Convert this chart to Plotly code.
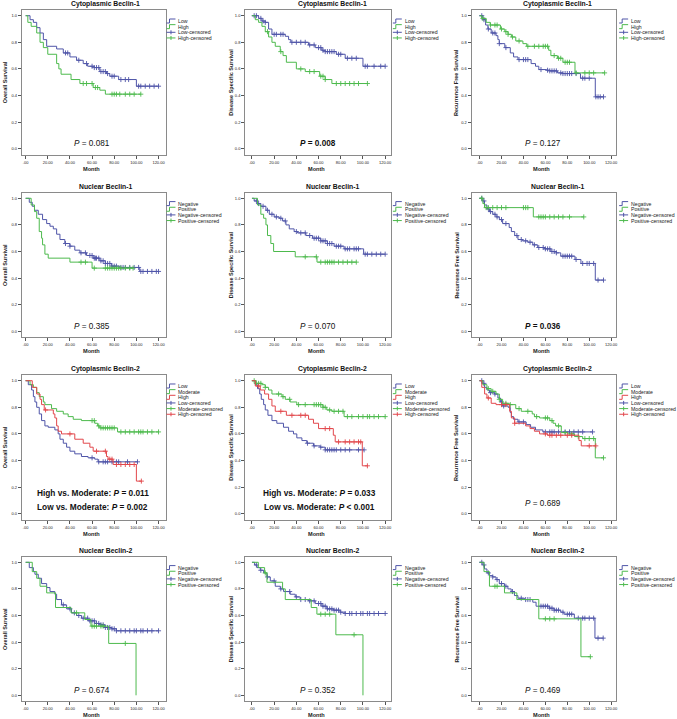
import plotly.graph_objects as go

W, H = 677, 719

# ---- Row 1: Cytoplasmic Beclin-1 ----
cyto1_os_low_t = [0, 4, 7, 10, 13, 16, 19, 28, 34, 40, 46, 52, 56, 62, 67, 73, 76, 84, 100]
cyto1_os_low_s = [1, 0.97, 0.95, 0.91, 0.87, 0.82, 0.77, 0.75, 0.72, 0.69, 0.665, 0.64, 0.62, 0.61, 0.58, 0.565, 0.545, 0.52, 0.47]
cyto1_os_low_c = [36, 38, 48, 55, 60, 62, 64, 66, 68, 70, 72, 74, 78, 80, 86, 90, 93, 102, 104, 108, 112, 116, 120]
cyto1_os_high_t = [0, 2, 5, 10, 13, 16, 20, 28, 30, 32, 41, 49, 61, 67, 72]
cyto1_os_high_s = [1, 0.95, 0.92, 0.87, 0.80, 0.76, 0.71, 0.64, 0.60, 0.56, 0.52, 0.49, 0.46, 0.44, 0.41]
cyto1_os_high_c = [52, 55, 60, 63, 65, 78, 80, 82, 85, 90, 94, 98, 104]

cyto1_dss_low_t = [0, 6, 9, 12, 15, 18, 30, 33, 35, 51, 57, 63, 66, 76, 84, 100]
cyto1_dss_low_s = [1, 0.98, 0.96, 0.95, 0.90, 0.86, 0.845, 0.82, 0.80, 0.78, 0.76, 0.74, 0.73, 0.71, 0.68, 0.62]
cyto1_dss_low_c = [2, 4, 8, 10, 12, 20, 22, 26, 28, 36, 40, 44, 48, 52, 56, 60, 62, 64, 66, 68, 70, 72, 74, 78, 80, 86, 90, 94, 102, 104, 110, 116, 120]
cyto1_dss_high_t = [0, 3, 6, 9, 12, 15, 18, 21, 25.5, 28, 31, 40, 48, 61, 66, 72]
cyto1_dss_high_s = [1, 0.97, 0.95, 0.92, 0.88, 0.84, 0.80, 0.77, 0.73, 0.70, 0.65, 0.60, 0.58, 0.545, 0.52, 0.49]
cyto1_dss_high_c = [14, 26, 44, 52, 56, 62, 64, 66, 76, 80, 84, 88, 92, 96, 104]

cyto1_rfs_low_t = [0, 3, 5.5, 7.6, 10.6, 15, 16.7, 18, 23, 28, 31, 35, 47, 51, 54, 61, 64, 71, 76, 92, 105.5]
cyto1_rfs_low_s = [1, 0.97, 0.93, 0.90, 0.87, 0.85, 0.82, 0.79, 0.76, 0.72, 0.69, 0.67, 0.64, 0.62, 0.595, 0.59, 0.585, 0.57, 0.565, 0.53, 0.39]
cyto1_rfs_low_c = [2, 4, 8, 12, 14, 18, 24, 36, 40, 42, 44, 56, 62, 64, 66, 68, 70, 74, 76, 78, 80, 82, 84, 88, 94, 96, 100, 106, 108, 110, 113]
cyto1_rfs_high_t = [0, 2, 6, 9.7, 19, 23, 26, 29, 33, 39.5, 43, 63, 65, 71, 76, 87]
cyto1_rfs_high_s = [1, 0.98, 0.95, 0.93, 0.90, 0.88, 0.86, 0.84, 0.81, 0.79, 0.77, 0.74, 0.70, 0.68, 0.65, 0.57]
cyto1_rfs_high_c = [3, 10, 14, 16, 20, 24, 26, 30, 36, 44, 50, 54, 58, 60, 62, 68, 72, 74, 78, 80, 82, 88, 96, 100, 104, 114]

# ---- Row 2: Nuclear Beclin-1 ----
nuc1_os_neg_t = [0, 3.3, 6, 8, 11.4, 15.3, 19, 22, 25, 28, 31, 35.4, 40, 44.4, 49, 55, 61, 67, 72, 77.4, 85, 103]
nuc1_os_neg_s = [1, 0.97, 0.94, 0.91, 0.88, 0.84, 0.81, 0.79, 0.77, 0.73, 0.69, 0.66, 0.64, 0.61, 0.59, 0.57, 0.55, 0.53, 0.51, 0.49, 0.48, 0.45]
nuc1_os_neg_c = [36, 40, 50, 54, 58, 60, 62, 63, 64, 66, 68, 70, 72, 74, 76, 78, 80, 82, 86, 88, 90, 94, 98, 102, 104, 106, 110, 114, 118, 120]
nuc1_os_pos_t = [0, 5, 8, 10, 12.3, 14.4, 15.3, 17.4, 20.4, 40, 60]
nuc1_os_pos_s = [1, 0.95, 0.90, 0.85, 0.75, 0.70, 0.65, 0.58, 0.55, 0.52, 0.475]
nuc1_os_pos_c = [50, 54, 62, 72, 74, 76, 78, 80, 82, 84, 86, 90, 94, 97]

nuc1_dss_neg_t = [0, 2, 5, 8, 12.6, 15.6, 20, 24.6, 27.6, 30.6, 33.6, 38, 41, 48.6, 54.6, 62, 68, 74, 83, 100.6]
nuc1_dss_neg_s = [1, 0.98, 0.96, 0.94, 0.91, 0.88, 0.86, 0.85, 0.83, 0.80, 0.77, 0.75, 0.74, 0.72, 0.70, 0.68, 0.66, 0.64, 0.62, 0.58]
nuc1_dss_neg_c = [4, 6, 10, 14, 18, 22, 26, 30, 40, 44, 48, 52, 56, 58, 60, 62, 64, 66, 68, 70, 72, 76, 78, 80, 84, 86, 88, 92, 94, 96, 102, 104, 108, 112, 116, 120]
nuc1_dss_pos_t = [0, 5, 8, 10.5, 12.6, 14, 17, 19.5, 39, 58.6]
nuc1_dss_pos_s = [1, 0.95, 0.88, 0.85, 0.80, 0.72, 0.66, 0.60, 0.56, 0.52]
nuc1_dss_pos_c = [48, 58, 62, 66, 68, 70, 72, 74, 78, 82, 86, 90, 94]

nuc1_rfs_neg_t = [0, 3, 4.5, 6.7, 9, 12, 15, 18, 21, 27, 29, 32, 35, 39, 44, 48.5, 53, 59, 65, 70, 74, 87, 92.4, 105.5]
nuc1_rfs_neg_s = [1, 0.98, 0.95, 0.92, 0.90, 0.88, 0.86, 0.84, 0.81, 0.78, 0.75, 0.72, 0.69, 0.68, 0.67, 0.65, 0.63, 0.62, 0.60, 0.59, 0.565, 0.54, 0.51, 0.385]
nuc1_rfs_neg_c = [2, 4, 8, 10, 14, 16, 20, 24, 34, 38, 42, 46, 50, 54, 58, 60, 62, 64, 66, 68, 70, 76, 78, 80, 82, 84, 88, 94, 98, 100, 104, 108, 113]
nuc1_rfs_pos_t = [0, 3, 4.5, 49]
nuc1_rfs_pos_s = [1, 0.96, 0.93, 0.86]
nuc1_rfs_pos_c = [2, 6, 8, 12, 16, 20, 24, 40, 42, 44, 54, 56, 58, 60, 64, 68, 72, 76, 82, 95]

# ---- Row 3: Cytoplasmic Beclin-2 ----
cyto2_os_low_t = [0, 2.4, 5.4, 7, 8.4, 10, 12.3, 14.4, 17.4, 20.4, 26.4, 29.4, 31, 34, 37, 40, 44.4, 50.4, 56.4, 62.4, 65.4]
cyto2_os_low_s = [1, 0.97, 0.93, 0.88, 0.84, 0.80, 0.75, 0.70, 0.66, 0.65, 0.63, 0.60, 0.56, 0.53, 0.50, 0.47, 0.45, 0.43, 0.42, 0.41, 0.39]
cyto2_os_low_c = [60, 66, 70, 72, 74, 78, 82, 84, 92, 101]
cyto2_os_mod_t = [0, 4, 7, 10, 12.3, 16, 17.4, 23.4, 28, 34, 38.4, 43, 50.4, 62.4, 65, 67, 83]
cyto2_os_mod_s = [1, 0.97, 0.95, 0.91, 0.88, 0.84, 0.82, 0.79, 0.77, 0.75, 0.73, 0.71, 0.70, 0.68, 0.66, 0.645, 0.615]
cyto2_os_mod_c = [60, 62, 66, 68, 70, 72, 74, 76, 78, 80, 86, 90, 94, 98, 102, 104, 106, 110, 114, 120]
cyto2_os_high_t = [0, 6, 10, 13, 14.4, 16.8, 25, 26.4, 28, 29.4, 32.4, 44.4, 52, 58, 61, 73, 74.4, 79, 100]
cyto2_os_high_s = [1, 0.95, 0.90, 0.86, 0.82, 0.78, 0.75, 0.72, 0.66, 0.62, 0.60, 0.56, 0.53, 0.50, 0.47, 0.43, 0.41, 0.37, 0.245]
cyto2_os_high_c = [18, 40, 64, 72, 76, 78, 82, 86, 90, 94, 98, 104.5]

cyto2_dss_low_t = [0, 3, 5, 7, 8.4, 10.5, 12, 14.4, 18, 22.4, 28.4, 33, 37.4, 40.4, 45, 49.4, 55.4, 61.4, 66]
cyto2_dss_low_s = [1, 0.97, 0.94, 0.90, 0.86, 0.82, 0.78, 0.74, 0.70, 0.68, 0.65, 0.62, 0.60, 0.57, 0.55, 0.53, 0.51, 0.50, 0.48]
cyto2_dss_low_c = [50, 56, 62, 66, 68, 70, 72, 74, 76, 80, 84, 88, 96, 101]
cyto2_dss_mod_t = [0, 3, 9, 12, 15, 18, 27, 30, 34.4, 40.4, 64, 67.4, 72, 83]
cyto2_dss_mod_s = [1, 0.98, 0.97, 0.95, 0.93, 0.90, 0.88, 0.86, 0.84, 0.82, 0.80, 0.78, 0.77, 0.73]
cyto2_dss_mod_c = [2, 4, 6, 8, 12, 24, 28, 34, 42, 48, 56, 58, 60, 62, 64, 66, 70, 74, 78, 82, 86, 90, 96, 100, 104, 106, 110, 114, 120]
cyto2_dss_high_t = [0, 3, 7.5, 11.4, 15, 18, 21, 31, 51, 55.4, 60, 73.3, 75, 99.4]
cyto2_dss_high_s = [1, 0.96, 0.93, 0.90, 0.86, 0.81, 0.77, 0.74, 0.71, 0.68, 0.64, 0.59, 0.54, 0.36]
cyto2_dss_high_c = [6, 26, 36, 44, 48, 66, 70, 78, 84, 88, 92, 96, 98, 104]

cyto2_rfs_low_t = [0, 3, 4.6, 6.7, 9, 13.7, 16.7, 19, 20.7, 26, 28, 29, 31, 35, 42.5, 46.5, 51, 57.7]
cyto2_rfs_low_s = [1, 0.98, 0.95, 0.93, 0.91, 0.90, 0.87, 0.84, 0.81, 0.80, 0.76, 0.73, 0.71, 0.69, 0.67, 0.65, 0.63, 0.615]
cyto2_rfs_low_c = [2, 4, 10, 14, 20, 22, 36, 40, 60, 64, 66, 68, 72, 78, 82, 86, 90, 94, 103]
cyto2_rfs_mod_t = [0, 3, 6.7, 10.6, 15, 18, 21, 27, 33, 38, 48, 50, 54.7, 64, 67, 69.3, 74.5, 80.5, 86.6, 94, 105.5]
cyto2_rfs_mod_s = [1, 0.97, 0.94, 0.92, 0.90, 0.86, 0.83, 0.82, 0.79, 0.77, 0.75, 0.73, 0.72, 0.70, 0.68, 0.66, 0.61, 0.60, 0.58, 0.565, 0.42]
cyto2_rfs_mod_c = [8, 12, 18, 24, 28, 36, 44, 52, 60, 62, 66, 72, 78, 84, 90, 96, 100, 104, 113]
cyto2_rfs_high_t = [0, 2, 4.6, 6.7, 10.6, 15, 27.4, 29, 32, 42, 46, 50, 54.7, 62, 90.6, 92.7]
cyto2_rfs_high_s = [1, 0.95, 0.90, 0.87, 0.83, 0.82, 0.77, 0.72, 0.68, 0.66, 0.64, 0.62, 0.60, 0.59, 0.55, 0.51]
cyto2_rfs_high_c = [8, 20, 24, 32, 60, 64, 66, 70, 74, 80, 84, 100, 106]

# ---- Row 4: Nuclear Beclin-2 ----
nuc2_os_neg_t = [0, 3.3, 7, 8.4, 11.4, 14.4, 19, 22, 26.4, 28, 32.4, 37, 41.4, 46, 50.4, 56.4, 62.4, 67, 71.4, 77.4, 82]
nuc2_os_neg_s = [1, 0.96, 0.93, 0.91, 0.88, 0.84, 0.81, 0.78, 0.76, 0.72, 0.68, 0.65, 0.62, 0.60, 0.58, 0.56, 0.54, 0.53, 0.51, 0.50, 0.485]
nuc2_os_neg_c = [34, 40, 44, 48, 52, 56, 58, 60, 62, 64, 66, 68, 70, 72, 74, 76, 78, 80, 82, 86, 90, 94, 98, 100, 104, 106, 110, 114, 120]
nuc2_os_pos_t = [0, 6, 10, 13, 19, 27, 41, 53.4, 59, 75, 99.7]
nuc2_os_pos_s = [1, 0.93, 0.88, 0.82, 0.77, 0.66, 0.62, 0.57, 0.52, 0.39, 0.0]
nuc2_os_pos_c = [46, 60, 62, 64, 68, 70, 90]

nuc2_dss_neg_t = [0, 2.4, 4.5, 7.5, 10.5, 13.5, 16.5, 21, 25.5, 28.5, 34.4, 39, 43.4, 51, 57, 63, 67.4, 73.4, 79.4, 84]
nuc2_dss_neg_s = [1, 0.98, 0.96, 0.94, 0.92, 0.89, 0.86, 0.82, 0.80, 0.78, 0.76, 0.74, 0.72, 0.71, 0.69, 0.67, 0.65, 0.64, 0.625, 0.615]
nuc2_dss_neg_c = [4, 8, 14, 20, 26, 34, 40, 44, 48, 52, 56, 60, 62, 64, 66, 68, 70, 72, 74, 76, 78, 80, 84, 88, 90, 94, 98, 100, 104, 106, 110, 114, 120]
nuc2_dss_pos_t = [0, 5.7, 11.4, 13.5, 27.6, 30, 53.4, 58.5, 75.6, 100]
nuc2_dss_pos_s = [1, 0.96, 0.92, 0.85, 0.80, 0.72, 0.66, 0.61, 0.455, 0.0]
nuc2_dss_pos_c = [12, 62, 66, 70, 92]

nuc2_rfs_neg_t = [0, 3, 4.5, 6.7, 9, 12, 15, 18, 22.7, 25.8, 28.8, 31.8, 35, 41, 48.5, 51.5, 63.6, 68, 74, 77, 86.4, 105.2]
nuc2_rfs_neg_s = [1, 0.98, 0.95, 0.92, 0.90, 0.89, 0.87, 0.84, 0.82, 0.80, 0.78, 0.75, 0.73, 0.72, 0.70, 0.67, 0.655, 0.64, 0.625, 0.61, 0.58, 0.43]
nuc2_rfs_neg_c = [2, 4, 8, 12, 16, 20, 24, 30, 38, 42, 44, 46, 56, 58, 60, 62, 64, 66, 68, 70, 72, 76, 80, 82, 84, 90, 94, 96, 100, 104, 108, 112.7]
nuc2_rfs_pos_t = [0, 4, 9, 22.7, 34, 54, 92.4]
nuc2_rfs_pos_s = [1, 0.93, 0.82, 0.77, 0.72, 0.575, 0.29]
nuc2_rfs_pos_c = [14, 16, 60, 64, 68, 101]

titles = ["Cytoplasmic Beclin-1", "Nuclear Beclin-1", "Cytoplasmic Beclin-2", "Nuclear Beclin-2"]
ytitles = ["Overall Survival", "Disease Specific Survival", "Recurrence Free Survival"]
x_ticks = [0, 20, 40, 60, 80, 100, 120]
x_ticktext = [".00", "20.00", "40.00", "60.00", "80.00", "100.00", "120.00"]
y_ticks = [0, 0.2, 0.4, 0.6, 0.8, 1.0]
y_ticktext = ["0.0", "0.2", "0.4", "0.6", "0.8", "1.0"]

pvals = [
    ["<i>P</i> = 0.081", "<b><i>P</i> = 0.008</b>", "<i>P</i> = 0.127"],
    ["<i>P</i> = 0.385", "<i>P</i> = 0.070", "<b><i>P</i> = 0.036</b>"],
    [["<b>High vs. Moderate: <i>P</i> = 0.011</b>", "<b>Low vs. Moderate: <i>P</i> = 0.002</b>"],
     ["<b>High vs. Moderate: <i>P</i> = 0.033</b>", "<b>Low vs. Moderate: <i>P</i> &lt; 0.001</b>"],
     "<i>P</i> = 0.689"],
    ["<i>P</i> = 0.674", "<i>P</i> = 0.352", "<i>P</i> = 0.469"],
]

BLUE = "#4f55a8"
GREEN = "#4dba4d"
RED = "#e2474c"

two_hl = [("Low", BLUE), ("High", GREEN)]
two_np = [("Negative", BLUE), ("Positive", GREEN)]
three = [("Low", BLUE), ("Moderate", GREEN), ("High", RED)]

panels = [
    [(two_hl, [(cyto1_os_low_t, cyto1_os_low_s, cyto1_os_low_c), (cyto1_os_high_t, cyto1_os_high_s, cyto1_os_high_c)]),
     (two_hl, [(cyto1_dss_low_t, cyto1_dss_low_s, cyto1_dss_low_c), (cyto1_dss_high_t, cyto1_dss_high_s, cyto1_dss_high_c)]),
     (two_hl, [(cyto1_rfs_low_t, cyto1_rfs_low_s, cyto1_rfs_low_c), (cyto1_rfs_high_t, cyto1_rfs_high_s, cyto1_rfs_high_c)])],
    [(two_np, [(nuc1_os_neg_t, nuc1_os_neg_s, nuc1_os_neg_c), (nuc1_os_pos_t, nuc1_os_pos_s, nuc1_os_pos_c)]),
     (two_np, [(nuc1_dss_neg_t, nuc1_dss_neg_s, nuc1_dss_neg_c), (nuc1_dss_pos_t, nuc1_dss_pos_s, nuc1_dss_pos_c)]),
     (two_np, [(nuc1_rfs_neg_t, nuc1_rfs_neg_s, nuc1_rfs_neg_c), (nuc1_rfs_pos_t, nuc1_rfs_pos_s, nuc1_rfs_pos_c)])],
    [(three, [(cyto2_os_low_t, cyto2_os_low_s, cyto2_os_low_c), (cyto2_os_mod_t, cyto2_os_mod_s, cyto2_os_mod_c), (cyto2_os_high_t, cyto2_os_high_s, cyto2_os_high_c)]),
     (three, [(cyto2_dss_low_t, cyto2_dss_low_s, cyto2_dss_low_c), (cyto2_dss_mod_t, cyto2_dss_mod_s, cyto2_dss_mod_c), (cyto2_dss_high_t, cyto2_dss_high_s, cyto2_dss_high_c)]),
     (three, [(cyto2_rfs_low_t, cyto2_rfs_low_s, cyto2_rfs_low_c), (cyto2_rfs_mod_t, cyto2_rfs_mod_s, cyto2_rfs_mod_c), (cyto2_rfs_high_t, cyto2_rfs_high_s, cyto2_rfs_high_c)])],
    [(two_np, [(nuc2_os_neg_t, nuc2_os_neg_s, nuc2_os_neg_c), (nuc2_os_pos_t, nuc2_os_pos_s, nuc2_os_pos_c)]),
     (two_np, [(nuc2_dss_neg_t, nuc2_dss_neg_s, nuc2_dss_neg_c), (nuc2_dss_pos_t, nuc2_dss_pos_s, nuc2_dss_pos_c)]),
     (two_np, [(nuc2_rfs_neg_t, nuc2_rfs_neg_s, nuc2_rfs_neg_c), (nuc2_rfs_pos_t, nuc2_rfs_pos_s, nuc2_rfs_pos_c)])],
]

# pixel layout (SPSS-like panels)
col_box = [(22, 166), (246, 392), (473, 618)]
col_t0 = [(25.7, 159.0), (252.7, 386.3), (481.0, 613.0)]   # pixel of 0 and 120 months
row_y1 = [15.7, 198.3, 380.7, 562.3]                      # pixel of survival 1.0
row_span = 133.0
title_x = [106, 333.7, 559]
ytitle_x = [5, 232, 458]
p_x = [92, 319, 545]
leg_x = [167, 394, 621]

FONT = "Liberation Sans, Arial, sans-serif"


def px(x):
    return x / W


def py(y):
    return 1 - y / H


def surv_at(t, s, x):
    v = s[0]
    for ti, si in zip(t, s):
        if ti <= x:
            v = si
    return v


fig = go.Figure()
annotations = []
shapes = []
layout = {}

n = 0
for r in range(4):
    for c in range(3):
        n += 1
        ax = "" if n == 1 else str(n)
        groups, curves = panels[r][c]
        bx0, bx1 = col_box[c]
        t0p, t120p = col_t0[c]
        ppm = (t120p - t0p) / 120
        y1 = row_y1[r]
        y0 = y1 + row_span
        btop, bbot = y1 - 5.7, y0 + 6

        for (name, color), (t, s, cens) in zip(groups, curves):
            end = max(t[-1], max(cens))
            fig.add_trace(go.Scatter(
                x=t + [end], y=s + [s[-1]], mode="lines", line=dict(color=color, width=1, shape="hv"),
                xaxis="x" + ax, yaxis="y" + ax, showlegend=False, hoverinfo="skip"))
            fig.add_trace(go.Scatter(
                x=cens, y=[surv_at(t, s, v) for v in cens], mode="markers",
                marker=dict(symbol="cross-thin", size=3.6, line=dict(color=color, width=0.9)),
                xaxis="x" + ax, yaxis="y" + ax, showlegend=False, hoverinfo="skip"))

        layout["xaxis" + ax] = dict(
            domain=[px(bx0), px(bx1)], range=[(bx0 - t0p) / ppm, (bx1 - t0p) / ppm],
            anchor="y" + ax, tickvals=x_ticks, ticktext=x_ticktext, ticks="outside", ticklen=3,
            tickcolor="#555", tickfont=dict(size=4, color="#222"), showgrid=False, zeroline=False,
            showline=True, mirror=True, linecolor="#8a8a8a", linewidth=1.2)
        layout["yaxis" + ax] = dict(
            domain=[py(bbot), py(btop)], range=[-(bbot - y0) / row_span, 1 + (y1 - btop) / row_span],
            anchor="x" + ax, tickvals=y_ticks, ticktext=y_ticktext, ticks="outside", ticklen=3,
            tickcolor="#555", tickfont=dict(size=4, color="#222"), showgrid=False, zeroline=False,
            showline=True, mirror=True, linecolor="#8a8a8a", linewidth=1.2)

        # panel title
        annotations.append(dict(x=px(title_x[c]), y=py(y1 - 11.7), xref="paper", yref="paper",
                                text="<b>%s</b>" % titles[r], showarrow=False,
                                font=dict(size=6.8, color="#111"), xanchor="center", yanchor="middle"))
        # axis titles
        annotations.append(dict(x=px(ytitle_x[c]), y=py((btop + bbot) / 2), xref="paper", yref="paper",
                                text="<b>%s</b>" % ytitles[c], textangle=-90, showarrow=False,
                                font=dict(size=5.5, color="#222"), xanchor="center", yanchor="middle"))
        annotations.append(dict(x=px((bx0 + bx1) / 2 - 2), y=py(y0 + 20), xref="paper", yref="paper",
                                text="<b>Month</b>", showarrow=False,
                                font=dict(size=5.6, color="#222"), xanchor="center", yanchor="middle"))
        # p values
        pv = pvals[r][c]
        if isinstance(pv, list):
            for k, line in enumerate(pv):
                annotations.append(dict(x=px(p_x[c] + 1), y=py(y1 + 112.3 + 14 * k), xref="paper", yref="paper",
                                        text=line, showarrow=False, font=dict(size=8.3, color="#111"),
                                        xanchor="center", yanchor="middle"))
        else:
            yy = y1 + (122.3 if r == 2 else 128)
            annotations.append(dict(x=px(p_x[c]), y=py(yy), xref="paper", yref="paper",
                                    text=pv, showarrow=False, font=dict(size=8.2, color="#111"),
                                    xanchor="center", yanchor="middle"))

        # legend
        entries = [(g, col, False) for g, col in groups] + [(g + "-censored", col, True) for g, col in groups]
        lx = leg_x[c]
        for k, (label, color, cen) in enumerate(entries):
            ly = y1 + 5.3 + 5.65 * k
            if cen:
                shapes.append(dict(type="line", xref="paper", yref="paper", x0=px(lx), x1=px(lx + 9),
                                   y0=py(ly), y1=py(ly), line=dict(color=color, width=1)))
                shapes.append(dict(type="line", xref="paper", yref="paper", x0=px(lx + 4.5), x1=px(lx + 4.5),
                                   y0=py(ly - 2), y1=py(ly + 2), line=dict(color=color, width=1)))
            else:
                path = "M %f,%f L %f,%f L %f,%f L %f,%f" % (
                    px(lx), py(ly + 2), px(lx + 3), py(ly + 2), px(lx + 3), py(ly - 2), px(lx + 9), py(ly - 2))
                shapes.append(dict(type="path", xref="paper", yref="paper", path=path,
                                   line=dict(color=color, width=1)))
            annotations.append(dict(x=px(lx + 10), y=py(ly), xref="paper", yref="paper", text=label,
                                    showarrow=False, font=dict(size=5.2, color="#222"),
                                    xanchor="left", yanchor="middle"))

fig.update_layout(
    width=W, height=H, margin=dict(l=0, r=0, t=0, b=0),
    paper_bgcolor="white", plot_bgcolor="white",
    font=dict(family=FONT, color="#222"),
    showlegend=False, annotations=annotations, shapes=shapes, **layout)

# drop the page's default body margin so the 677x719 figure fills the window exactly
fig.write_html("out.html", config={"displayModeBar": False},
               post_script="document.body.style.margin='0';document.body.style.overflow='hidden';")
